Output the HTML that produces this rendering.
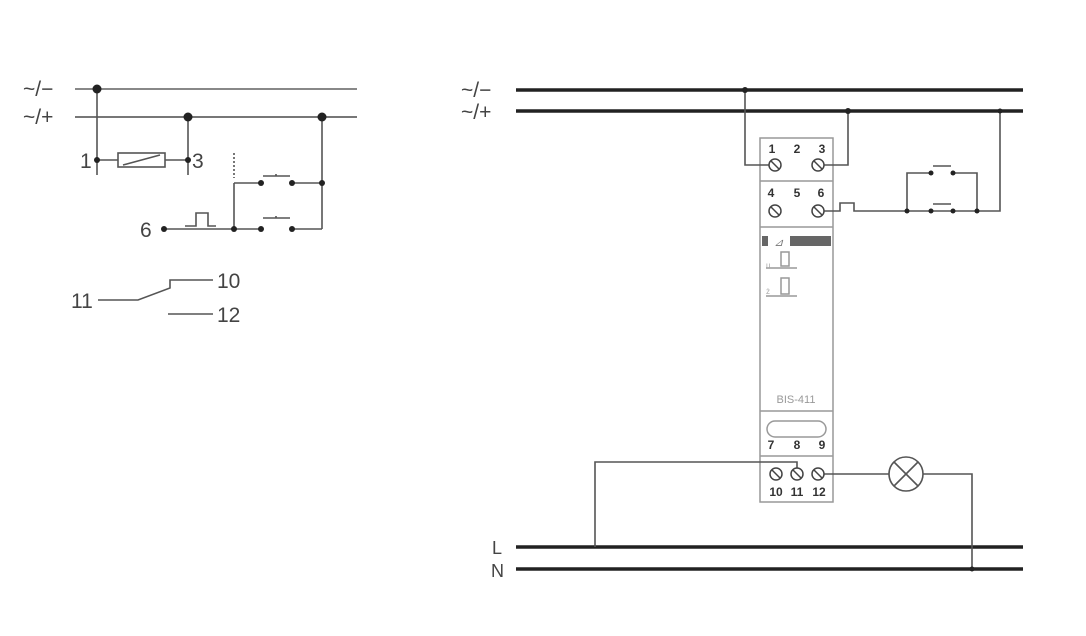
<!DOCTYPE html>
<html><head><meta charset="utf-8"><style>
html,body{margin:0;padding:0;background:#fff;}
svg{display:block;}
text{font-family:"Liberation Sans",sans-serif;}
</style></head><body>
<svg width="1086" height="636" viewBox="0 0 1086 636" xmlns="http://www.w3.org/2000/svg">
<g stroke="#555" stroke-width="1.6" fill="none">
  <line x1="75" y1="89" x2="357" y2="89" stroke="#888" stroke-width="2"/>
  <line x1="75" y1="117" x2="357" y2="117" stroke="#777" stroke-width="2"/>
  <line x1="97" y1="89" x2="97" y2="175"/>
  <line x1="188" y1="117" x2="188" y2="175"/>
  <line x1="97" y1="160" x2="118" y2="160"/>
  <rect x="118" y="153" width="47" height="14"/>
  <line x1="123" y1="165" x2="160" y2="155"/>
  <line x1="165" y1="160" x2="188" y2="160"/>
  <line x1="234" y1="153" x2="234" y2="178" stroke-dasharray="2,2"/>
  <line x1="234" y1="229" x2="234" y2="183"/>
  <line x1="234" y1="183" x2="261" y2="183"/>
  <line x1="292" y1="183" x2="322" y2="183"/>
  <line x1="263" y1="176" x2="290" y2="176"/>
  <line x1="276" y1="174" x2="276" y2="176"/>
  <line x1="164" y1="229" x2="261" y2="229"/>
  <path d="M185 226 H196 V213 H208 V226 H216"/>
  <line x1="263" y1="218" x2="290" y2="218"/>
  <line x1="276" y1="216" x2="276" y2="218"/>
  <line x1="292" y1="229" x2="322" y2="229"/>
  <line x1="322" y1="117" x2="322" y2="229"/>
  <path d="M98 300 H138 L170 288 V280 H213"/>
  <line x1="168" y1="314" x2="213" y2="314"/>
</g>
<g fill="#222">
  <circle cx="97" cy="89" r="4.5"/><circle cx="188" cy="117" r="4.5"/><circle cx="322" cy="117" r="4.5"/>
  <circle cx="97" cy="160" r="3"/><circle cx="188" cy="160" r="3"/>
  <circle cx="261" cy="183" r="3"/><circle cx="292" cy="183" r="3"/><circle cx="322" cy="183" r="3"/>
  <circle cx="164" cy="229" r="3"/><circle cx="234" cy="229" r="3"/><circle cx="261" cy="229" r="3"/><circle cx="292" cy="229" r="3"/>
</g>
<g fill="#444" font-size="21">
  <text x="23" y="96">~/−</text>
  <text x="23" y="124">~/+</text>
  <text x="80" y="168">1</text>
  <text x="192" y="168">3</text>
  <text x="140" y="237">6</text>
  <text x="71" y="308">11</text>
  <text x="217" y="288">10</text>
  <text x="217" y="322">12</text>
  <text x="461" y="97">~/−</text>
  <text x="461" y="119">~/+</text>
  <text x="492" y="554" font-size="18">L</text>
  <text x="491" y="577" font-size="18">N</text>
</g>
<g stroke="#222" stroke-width="3.5">
  <line x1="516" y1="90" x2="1023" y2="90"/>
  <line x1="516" y1="111" x2="1023" y2="111"/>
  <line x1="516" y1="547" x2="1023" y2="547"/>
  <line x1="516" y1="569" x2="1023" y2="569"/>
</g>
<g stroke="#999" stroke-width="1.5" fill="none">
  <rect x="760" y="138" width="73" height="364"/>
  <line x1="760" y1="181" x2="833" y2="181"/>
  <line x1="760" y1="227" x2="833" y2="227"/>
  <line x1="760" y1="411" x2="833" y2="411"/>
  <line x1="760" y1="456" x2="833" y2="456"/>
  <rect x="767" y="421" width="59" height="16" rx="8"/>
  <line x1="766" y1="268" x2="797" y2="268"/>
  <line x1="766" y1="296" x2="797" y2="296"/>
  <rect x="781" y="252" width="8" height="14"/>
  <rect x="781" y="278" width="8" height="16"/>
</g>
<g stroke="#555" stroke-width="1.6" fill="none">
  <path d="M745 90 V165 H775"/>
  <path d="M818 165 H848 V111"/>
  <path d="M818 211 H840 V203 H854 V211 H1000 V111"/>
  <path d="M931 173 H907 V211"/>
  <path d="M953 173 H977 V211"/>
  <line x1="933" y1="166" x2="951" y2="166"/>
  <line x1="933" y1="204" x2="951" y2="204"/>
  <path d="M595 547 V462 H797 V470"/>
  <path d="M818 474 H889"/>
  <path d="M923 474 H972 V569"/>
  <circle cx="906" cy="474" r="17"/>
  <line x1="894" y1="462" x2="918" y2="486"/>
  <line x1="918" y1="462" x2="894" y2="486"/>
</g>
<g fill="#222">
  <circle cx="745" cy="90" r="3"/><circle cx="848" cy="111" r="3"/><circle cx="1000" cy="111" r="2.5"/>
  <circle cx="907" cy="211" r="2.5"/><circle cx="931" cy="211" r="2.5"/><circle cx="953" cy="211" r="2.5"/><circle cx="977" cy="211" r="2.5"/>
  <circle cx="931" cy="173" r="2.5"/><circle cx="953" cy="173" r="2.5"/>
  <circle cx="972" cy="569" r="2.5"/>
</g>
<rect x="762" y="236" width="6" height="10" fill="#666"/>
<rect x="790" y="236" width="41" height="10" fill="#666"/>
<text x="774" y="246" font-size="11" fill="#777" font-style="italic">⊿</text>
<g stroke="#444" stroke-width="1.5" fill="#fff">
  <circle cx="775" cy="165" r="6"/><circle cx="818" cy="165" r="6"/>
  <circle cx="775" cy="211" r="6"/><circle cx="818" cy="211" r="6"/>
  <circle cx="776" cy="474" r="6"/><circle cx="797" cy="474" r="6"/><circle cx="818" cy="474" r="6"/>
</g>
<g stroke="#444" stroke-width="1.5">
  <line x1="771" y1="161" x2="779" y2="169"/><line x1="814" y1="161" x2="822" y2="169"/>
  <line x1="771" y1="207" x2="779" y2="215"/><line x1="814" y1="207" x2="822" y2="215"/>
  <line x1="772" y1="470" x2="780" y2="478"/><line x1="793" y1="470" x2="801" y2="478"/><line x1="814" y1="470" x2="822" y2="478"/>
</g>
<g font-size="12" font-weight="bold" fill="#333" text-anchor="middle">
  <text x="772" y="153">1</text><text x="797" y="153">2</text><text x="822" y="153">3</text>
  <text x="771" y="197">4</text><text x="797" y="197">5</text><text x="821" y="197">6</text>
  <text x="771" y="449">7</text><text x="797" y="449">8</text><text x="822" y="449">9</text>
  <text x="776" y="496">10</text><text x="797" y="496">11</text><text x="819" y="496">12</text>
</g>
<text x="796" y="403" font-size="11" fill="#999" text-anchor="middle">BIS-411</text>
<text x="766" y="268" font-size="8" fill="#aaa">u</text>
<text x="766" y="294" font-size="8" fill="#aaa">ż</text>
</svg>
</body></html>
